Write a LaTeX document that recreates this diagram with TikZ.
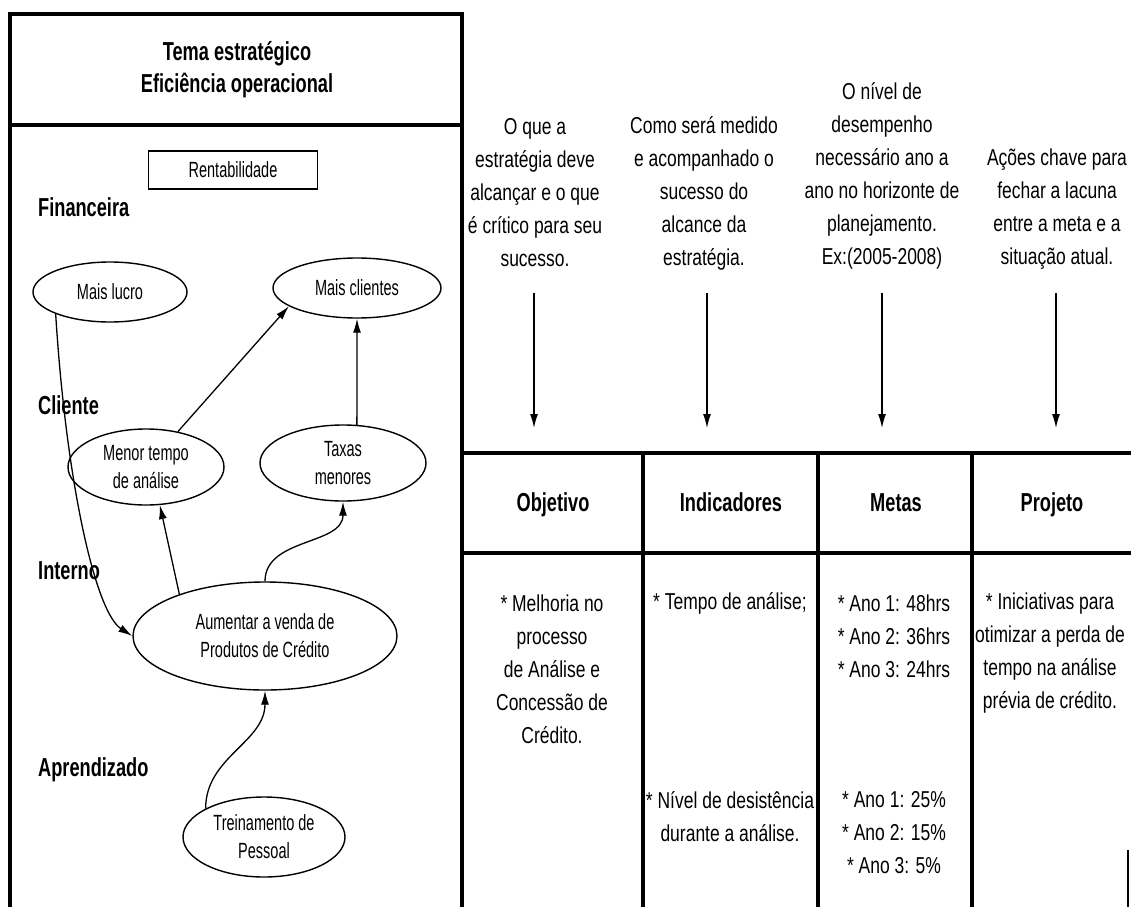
\documentclass[tikz,border=0pt]{standalone}
\usepackage{fontspec}
\setmainfont{Liberation Sans}
\newfontfamily\narrowtxt{Liberation Sans}[FakeStretch=0.76]
\newfontfamily\boldtxt{Liberation Sans}[FakeStretch=0.7]
\newfontfamily\ovaltxt{Liberation Sans}[FakeStretch=0.66]
\usetikzlibrary{shapes.geometric, arrows.meta}

\begin{document}
\begin{tikzpicture}[x=1pt, y=-1pt,
        frame/.style={line width=3.2pt, line join=miter},
        oval/.style={ellipse, draw, line width=1.4pt, inner sep=0pt, align=center,
            font=\ovaltxt\fontsize{22}{28}\selectfont},
        layer/.style={anchor=base west, inner sep=0pt, font=\boldtxt\bfseries\fontsize{26}{32}\selectfont},
        head/.style={anchor=base, inner sep=0pt, align=center, font=\boldtxt\bfseries\fontsize{26}{32}\selectfont},
        note/.style={inner sep=0pt, align=center, font=\narrowtxt\fontsize{23}{33}\selectfont},
        arr/.style={line width=1.3pt, -{Latex[length=14pt, width=8pt]}}]
        \fill[white] (0,0) rectangle (1131,907);
        \useasboundingbox (0,0) rectangle (1131,907);

        \draw[frame] (10,907) -- (10,14) -- (462,14) -- (462,907);
        \draw[frame] (10,125) -- (462,125);
        \node[head, anchor=center] (tema) at (237,70) {Tema estratégico\\Eficiência operacional};
        \node[draw, line width=1.4pt, minimum width=169pt, minimum height=38pt,
            font=\ovaltxt\fontsize{22}{28}\selectfont] (rent) at (233,170) {Rentabilidade};

        \node[layer] (fin) at (38,216) {Financeira};
        \node[layer] (cli) at (38,414) {Cliente};
        \node[layer] (int) at (38,579) {Interno};
        \node[layer] (apr) at (38,776) {Aprendizado};

        \node[oval, minimum width=154pt, minimum height=60pt] (lucro) at (110,292) {Mais lucro};
        \node[oval, minimum width=168pt, minimum height=60pt] (clientes) at (357,288) {Mais clientes};
        \node[oval, minimum width=156pt, minimum height=76pt] (menor) at (146,467) {Menor tempo\\de análise};
        \node[oval, minimum width=166pt, minimum height=76pt] (taxas) at (343,463) {Taxas\\menores};
        \node[oval, minimum width=264pt, minimum height=108pt] (aumentar) at (265,636) {Aumentar a venda de\\Produtos de Crédito};
        \node[oval, minimum width=162pt, minimum height=80pt] (treino) at (264,837) {Treinamento de\\Pessoal};

        \draw[arr] (lucro.202) .. controls (66,480) and (95,612) .. (aumentar.west);
        \draw[arr] (menor.48) -- (clientes.195);
        \draw[arr] (taxas.70) -- (clientes.south);
        \draw[arr] (aumentar.154) -- (menor.290);
        \draw[arr] (aumentar.north) to[out=90, in=-90] (taxas.south);
        \draw[arr] (treino.154) to[out=90, in=-90] (aumentar.south);

        \node[note] (q1) at (535,193) {O que a\\estratégia deve\\alcançar e o que\\é crítico para seu\\sucesso.};
        \node[note] (q2) at (704,193) {Como será medido\\e acompanhado o\\sucesso do\\alcance da\\estratégia.};
        \node[note] (q3) at (882,176) {O nível de\\desempenho\\necessário ano a\\ano no horizonte de\\planejamento.\\Ex:(2005-2008)};
        \node[note] (q4) at (1057,209) {Ações chave para\\fechar a lacuna\\entre a meta e a\\situação atual.};

        \coordinate (d1) at (534,293);
        \coordinate (e1) at (534,428);
        \coordinate (d2) at (707,293);
        \coordinate (e2) at (707,428);
        \coordinate (d3) at (882,293);
        \coordinate (e3) at (882,428);
        \coordinate (d4) at (1056,293);
        \coordinate (e4) at (1056,428);
        \draw[arr] (d1) -- (e1);
        \draw[arr] (d2) -- (e2);
        \draw[arr] (d3) -- (e3);
        \draw[arr] (d4) -- (e4);

        \draw[frame] (462,453) -- (1131,453);
        \draw[frame] (462,553) -- (1131,553);
        \draw[frame] (643,453) -- (643,907);
        \draw[frame] (818,453) -- (818,907);
        \draw[frame] (972,453) -- (972,907);
        \draw[line width=1.5pt] (1128,850) -- (1128,907);

        \node[head] (obj) at (553,511) {Objetivo};
        \node[head] (ind) at (731,511) {Indicadores};
        \node[head] (met) at (896,511) {Metas};
        \node[head] (proj) at (1052,511) {Projeto};

        \node[note] (obj1) at (552,669) {* Melhoria no\\processo\\de Análise e\\Concessão de\\Crédito.};
        \node[note] (ind1) at (730,603) {* Tempo de análise;};
        \node[note] (ind2) at (730,817) {* Nível de desistência\\durante a análise.};
        \node[note] (met1) at (894,636) {* Ano 1: 48hrs\\* Ano 2: 36hrs\\* Ano 3: 24hrs};
        \node[note] (met2) at (894,833) {* Ano 1: 25\%\\* Ano 2: 15\%\\* Ano 3: 5\%};
        \node[note] (proj1) at (1050,653) {* Iniciativas para\\otimizar a perda de\\tempo na análise\\prévia de crédito.};
    \end{tikzpicture}
\end{document}
